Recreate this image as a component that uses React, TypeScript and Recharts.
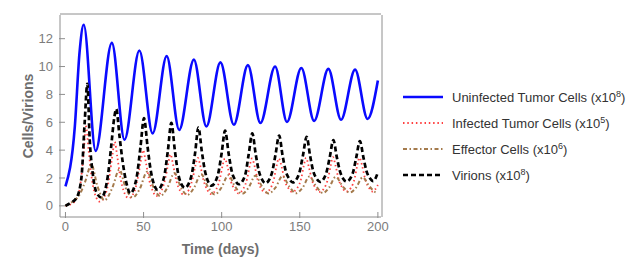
import React from "react"
import { LineChart, Line, XAxis, YAxis } from "recharts"

// time (days), value
const uninfectedTumor: [number, number][] = [
  [0, 1.4], [6, 5.7], [9, 11.0], [11.7, 13.0], [19.3, 3.95], [29.7, 11.7], [37.8, 4.75],
  [47.3, 11.15], [55.8, 5.2], [64.8, 10.75], [72.8, 5.45], [82.2, 10.5], [90.2, 5.7],
  [99.2, 10.3], [107.8, 5.82], [116.8, 10.1], [124.8, 5.95], [134.2, 10.0], [141.8, 6.02],
  [151, 9.9], [159.2, 6.1], [168.3, 9.83], [176.4, 6.18], [185.4, 9.78], [193.4, 6.24],
  [200, 9.0],
]

const infectedTumor: [number, number][] = [
  [0, 0], [4, 0.15], [7, 0.5], [9.5, 1.5], [11.5, 3.6], [13.2, 5.7], [14.8, 4.0], [16.8, 2.0],
  [19, 0.8], [22, 0.3], [25.5, 0.8], [28, 2.0], [30, 3.6], [31.5, 4.6], [33.2, 3.5], [35.2, 2.0],
  [37.5, 1.0], [40.5, 0.55], [44, 1.0], [46.5, 2.1], [48.2, 3.2], [49.7, 4.0], [51.5, 3.1],
  [53.5, 1.9], [55.8, 1.1], [58, 0.7], [61.5, 1.1], [64, 2.0], [65.7, 3.0], [67.2, 3.7],
  [69, 2.9], [71, 1.8], [73.3, 1.1], [75.5, 0.8], [79, 1.15], [81.5, 2.0], [83.2, 2.9],
  [84.7, 3.45], [86.5, 2.8], [88.5, 1.8], [90.8, 1.15], [93, 0.85], [96.5, 1.2], [99, 2.0],
  [100.6, 2.9], [102, 3.4], [103.8, 2.8], [105.8, 1.8], [108.2, 1.2], [110.5, 0.9],
  [114, 1.25], [116.4, 2.0], [118, 2.9], [119.4, 3.4], [121.2, 2.8], [123.2, 1.8],
  [125.5, 1.2], [127.8, 0.95], [131.2, 1.25], [133.6, 2.0], [135.2, 2.9], [136.6, 3.4],
  [138.4, 2.8], [140.4, 1.8], [142.8, 1.25], [145, 1.0], [148.5, 1.3], [151, 2.0],
  [152.6, 2.9], [154, 3.45], [155.8, 2.8], [157.8, 1.85], [160.2, 1.25], [162.5, 1.0],
  [165.8, 1.3], [168.2, 2.0], [169.8, 2.9], [171.2, 3.5], [173, 2.85], [175, 1.85],
  [177.3, 1.3], [179.5, 1.02], [182.8, 1.3], [185.2, 2.0], [186.8, 2.9], [188.2, 3.45],
  [190, 2.85], [192, 1.85], [194.3, 1.3], [196.5, 1.03], [200, 1.5],
]

const effectorCells: [number, number][] = [
  [0, 0], [5, 0.35], [9, 0.8], [12.5, 1.7], [16.6, 2.95], [20.5, 1.4], [25, 0.4], [30, 1.3],
  [34.5, 2.6], [38.5, 1.3], [43, 0.6], [47.5, 1.2], [52.3, 2.45], [56.3, 1.35], [60.5, 0.7],
  [65, 1.25], [69.8, 2.35], [73.8, 1.35], [78, 0.78], [82.3, 1.3], [86.8, 2.28], [91, 1.4],
  [95.5, 0.82], [99.8, 1.3], [104.3, 2.2], [108.5, 1.4], [113, 0.86], [117.2, 1.3],
  [121.6, 2.17], [125.8, 1.4], [130, 0.88], [134.4, 1.3], [138.9, 2.13], [143.2, 1.4],
  [147.5, 0.9], [151.8, 1.3], [156.2, 2.1], [160.5, 1.4], [164.8, 0.92], [168.7, 1.3],
  [173, 2.08], [177.5, 1.4], [182, 0.95], [186, 1.3], [190.3, 2.05], [194.6, 1.4],
  [199, 0.97], [200, 1.0],
]

const virions: [number, number][] = [
  [0, 0], [3, 0.2], [7, 0.55], [10.2, 2.0], [12.3, 6.0], [14, 8.75], [15.5, 4.8], [17.6, 2.2],
  [19.7, 1.0], [23, 0.6], [27.2, 2.2], [29.3, 4.3], [31.2, 6.3], [32.5, 6.95], [34.6, 5.0],
  [36.7, 3.1], [38.9, 1.7], [41.5, 0.9], [45.5, 2.0], [48, 4.2], [50.3, 6.3], [52.5, 4.3],
  [54.5, 2.6], [56.5, 1.6], [59, 1.15], [63, 2.0], [65.5, 3.9], [67.8, 5.95], [70, 4.0],
  [72, 2.4], [74, 1.6], [76.5, 1.3], [80.5, 2.1], [83, 3.8], [85.1, 5.62], [87.3, 3.9],
  [89.3, 2.5], [91.3, 1.75], [93.5, 1.45], [97.5, 2.2], [100, 3.8], [102.2, 5.4],
  [104.4, 3.8], [106.4, 2.5], [108.6, 1.85], [111, 1.55], [115, 2.2], [117.3, 3.7],
  [119.6, 5.2], [121.8, 3.7], [123.8, 2.5], [125.8, 1.9], [128, 1.62], [132, 2.3],
  [134.5, 3.7], [136.8, 5.05], [139, 3.6], [141, 2.5], [143.2, 1.95], [145.5, 1.68],
  [149.5, 2.3], [152, 3.6], [154.4, 4.95], [156.6, 3.6], [158.6, 2.5], [160.8, 1.95],
  [163, 1.72], [166.8, 2.3], [169.2, 3.5], [171.5, 4.72], [173.7, 3.5], [175.7, 2.5],
  [177.8, 1.95], [180, 1.75], [183.8, 2.3], [186.2, 3.5], [188.5, 4.65], [190.7, 3.5],
  [192.7, 2.5], [194.8, 2.0], [197, 1.78], [200, 2.4],
]

const xMajorTicks = [0, 50, 100, 150, 200]
const xMinorTicks = [
  0, 10, 20, 30, 40, 50, 60, 70, 80, 90, 100, 110, 120, 130, 140, 150, 160, 170, 180, 190, 200,
]
const yMajorTicks = [0, 2, 4, 6, 8, 10, 12]
const yMinorTicks = [
  -0.5, 0, 0.5, 1, 1.5, 2, 2.5, 3, 3.5, 4, 4.5, 5, 5.5, 6, 6.5, 7, 7.5, 8, 8.5, 9, 9.5, 10,
  10.5, 11, 11.5, 12, 12.5, 13, 13.5,
]

const seriesNames = [
  "Uninfected Tumor Cells",
  "Infected Tumor Cells",
  "Effector Cells",
  "Virions",
]
const seriesExponents = ["8", "5", "6", "8"]

const toPoints = (pairs: [number, number][]) => pairs.map(([t, v]) => ({ t, v }))

const styles = [
  { color: "#0a0aff", width: 2.6, dash: undefined as string | undefined },
  { color: "#ff4040", width: 1.8, dash: "1.5 2.8" },
  { color: "#a47a4c", width: 2, dash: "4 2.5 1.5 2.5" },
  { color: "#000000", width: 2.7, dash: "5 3" },
]

const xDomain: [number, number] = [-3.5, 202]
const yDomain: [number, number] = [-0.8, 13.7]

const frame = "#8e8e8e"
const tickFont = { fill: "#7c7c7c", fontSize: 13, fontFamily: "Liberation Sans, Arial, sans-serif" }
const labelStyle = {
  fill: "#6e6e6e",
  fontSize: 14,
  fontWeight: 700,
  fontFamily: "Liberation Sans, Arial, sans-serif",
}

const series = [uninfectedTumor, infectedTumor, effectorCells, virions]

// invisible lines so the frame/minor-tick axes have something bound to them
const frameAxisPairs = [
  ["bMinor", "lMinor"],
  ["tMinor", "rMinor"],
  ["tMajor", "rMajor"],
]

export default function App() {
  const anchor = toPoints(uninfectedTumor)
  return (
    <div
      style={{
        position: "absolute",
        left: 0,
        top: 0,
        width: 631,
        height: 263,
        background: "#fff",
      }}
    >
      <LineChart
        width={631}
        height={263}
        margin={{ top: 13, right: 248, left: 19, bottom: 15 }}
      >
        <XAxis
          xAxisId="bMinor"
          type="number"
          dataKey="t"
          domain={xDomain}
          allowDataOverflow
          ticks={xMinorTicks}
          tick={false}
          tickSize={-3}
          height={1}
          axisLine={{ stroke: frame }}
          tickLine={{ stroke: frame }}
        />
        <XAxis
          xAxisId="main"
          type="number"
          dataKey="t"
          domain={xDomain}
          allowDataOverflow
          ticks={xMajorTicks}
          tick={tickFont}
          tickSize={-6}
          tickMargin={10}
          height={30}
          axisLine={false}
          tickLine={{ stroke: frame }}
          label={{ value: "Time (days)", position: "insideBottom", offset: -6, style: labelStyle }}
        />
        <XAxis
          xAxisId="tMinor"
          orientation="top"
          type="number"
          dataKey="t"
          domain={xDomain}
          allowDataOverflow
          ticks={xMinorTicks}
          tick={false}
          tickSize={-3}
          height={1}
          axisLine={{ stroke: frame }}
          tickLine={{ stroke: frame }}
        />
        <XAxis
          xAxisId="tMajor"
          orientation="top"
          type="number"
          dataKey="t"
          domain={xDomain}
          allowDataOverflow
          ticks={xMajorTicks}
          tick={false}
          tickSize={-6}
          height={1}
          axisLine={false}
          tickLine={{ stroke: frame }}
        />
        <YAxis
          yAxisId="lMinor"
          type="number"
          domain={yDomain}
          allowDataOverflow
          ticks={yMinorTicks}
          tick={false}
          tickSize={-3}
          width={1}
          axisLine={{ stroke: frame }}
          tickLine={{ stroke: frame }}
        />
        <YAxis
          yAxisId="main"
          type="number"
          domain={yDomain}
          allowDataOverflow
          ticks={yMajorTicks}
          tick={tickFont}
          tickSize={-6}
          tickMargin={12}
          width={40}
          axisLine={false}
          tickLine={{ stroke: frame }}
          label={{
            value: "Cells/Virions",
            angle: -90,
            position: "insideLeft",
            offset: 9,
            style: { ...labelStyle, textAnchor: "middle" },
          }}
        />
        <YAxis
          yAxisId="rMinor"
          orientation="right"
          type="number"
          domain={yDomain}
          allowDataOverflow
          ticks={yMinorTicks}
          tick={false}
          tickSize={-3}
          width={1}
          axisLine={{ stroke: frame }}
          tickLine={{ stroke: frame }}
        />
        <YAxis
          yAxisId="rMajor"
          orientation="right"
          type="number"
          domain={yDomain}
          allowDataOverflow
          ticks={yMajorTicks}
          tick={false}
          tickSize={-6}
          width={1}
          axisLine={false}
          tickLine={{ stroke: frame }}
        />
        {frameAxisPairs.map(([xId, yId]) => (
          <Line
            key={xId}
            xAxisId={xId}
            yAxisId={yId}
            data={anchor}
            dataKey="v"
            stroke="none"
            dot={false}
            activeDot={false}
            legendType="none"
            isAnimationActive={false}
          />
        ))}
        {series.map((pairs, i) => (
          <Line
            key={seriesNames[i]}
            xAxisId="main"
            yAxisId="main"
            data={toPoints(pairs)}
            dataKey="v"
            name={seriesNames[i]}
            type="monotone"
            stroke={styles[i].color}
            strokeWidth={styles[i].width}
            strokeDasharray={styles[i].dash}
            dot={false}
            activeDot={false}
            isAnimationActive={false}
          />
        ))}
      </LineChart>
      <div
        style={{
          position: "absolute",
          left: 403,
          top: 84,
          fontFamily: "Liberation Sans, Arial, sans-serif",
          fontSize: 13,
          color: "#333",
        }}
      >
        {seriesNames.map((name, i) => (
          <div
            key={name}
            style={{ display: "flex", alignItems: "center", height: 26, whiteSpace: "nowrap" }}
          >
            <svg width={40} height={10} style={{ marginRight: 9 }}>
              <line
                x1={0}
                y1={5}
                x2={40}
                y2={5}
                stroke={styles[i].color}
                strokeWidth={styles[i].width}
                strokeDasharray={styles[i].dash}
              />
            </svg>
            <span>
              {name} (x10<sup style={{ fontSize: 9 }}>{seriesExponents[i]}</sup>)
            </span>
          </div>
        ))}
      </div>
    </div>
  )
}
